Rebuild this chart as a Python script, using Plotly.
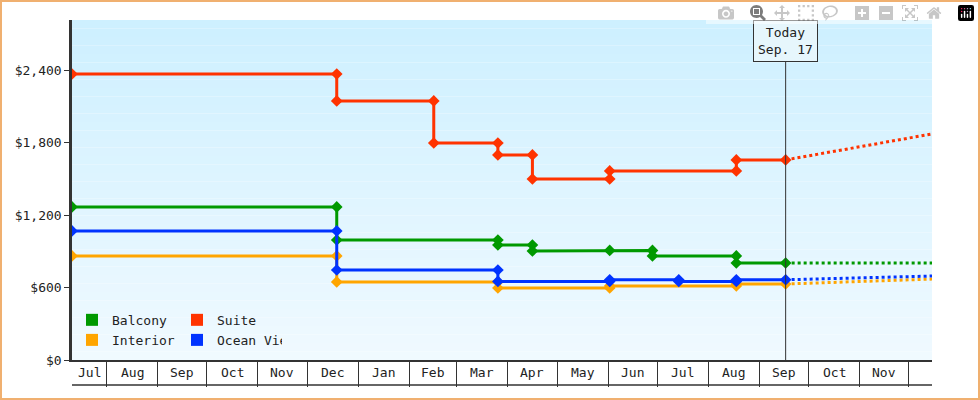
import pandas as pd
import plotly.graph_objects as go

# price history (step changes), dates repeated where the price changed
suite_x = ["2023-07-11", "2023-12-19", "2023-12-19", "2024-02-16", "2024-02-16", "2024-03-26", "2024-03-26",
           "2024-04-16", "2024-04-16", "2024-06-02", "2024-06-02", "2024-08-18", "2024-08-18", "2024-09-17"]
suite_y = [2367, 2367, 2144, 2144, 1796, 1796, 1697, 1697, 1498, 1498, 1565, 1565, 1656, 1656]

balcony_x = ["2023-07-11", "2023-12-19", "2023-12-19", "2024-03-26", "2024-03-26", "2024-04-16", "2024-04-16",
             "2024-06-02", "2024-06-28", "2024-06-28", "2024-08-18", "2024-08-18", "2024-09-17"]
balcony_y = [1267, 1267, 993, 993, 952, 952, 902, 907, 907, 861, 861, 803, 803]

ocean_x = ["2023-07-11", "2023-12-19", "2023-12-19", "2024-03-26", "2024-03-26", "2024-06-02", "2024-06-02",
           "2024-07-14", "2024-07-14", "2024-08-18", "2024-08-18", "2024-09-17"]
ocean_y = [1068, 1068, 745, 745, 650, 650, 664, 664, 650, 650, 664, 664]

interior_x = ["2023-07-11", "2023-12-19", "2023-12-19", "2024-03-26", "2024-03-26", "2024-06-02", "2024-06-02",
              "2024-08-18", "2024-08-18", "2024-09-17"]
interior_y = [861, 861, 646, 646, 596, 596, 613, 613, 629, 629]

# forecasts from today to end of range
forecast_x = ["2024-09-17", "2024-12-15"]
suite_fc = [1656, 1871]
balcony_fc = [803, 803]
ocean_fc = [664, 695]
interior_fc = [629, 670]

months = ["Jul", "Aug", "Sep", "Oct", "Nov", "Dec", "Jan", "Feb", "Mar", "Apr", "May", "Jun", "Jul", "Aug", "Sep", "Oct", "Nov"]
month_starts = ["2023-07-01", "2023-08-01", "2023-09-01", "2023-10-01", "2023-11-01", "2023-12-01", "2024-01-01",
                "2024-02-01", "2024-03-01", "2024-04-01", "2024-05-01", "2024-06-01", "2024-07-01", "2024-08-01",
                "2024-09-01", "2024-10-01", "2024-11-01", "2024-12-01"]
x_range = ["2023-07-11", "2024-12-15"]
y_ticks = [0, 600, 1200, 1800, 2400]
today = "2024-09-17"

FONT = "DejaVu Sans Mono"
series = [
    ("Balcony", "#009900", balcony_x, balcony_y, balcony_fc, "legend"),
    ("Suite", "#ff3300", suite_x, suite_y, suite_fc, "legend"),
    ("Interior", "#ffa500", interior_x, interior_y, interior_fc, "legend2"),
    ("Ocean View", "#0033ff", ocean_x, ocean_y, ocean_fc, "legend2"),
]

fig = go.Figure()

# background gradient
n = 40
for i in range(n):
    t = i / (n - 1)
    r = int(0xce + (0xf0 - 0xce) * t)
    g = int(0xf0 + (0xfa - 0xf0) * t)
    fig.add_shape(type="rect", xref="paper", yref="paper", x0=0, x1=1,
                  y0=1 - (i + 1) / n, y1=1 - i / n, fillcolor=f"rgb({r},{g},255)",
                  line_width=0, layer="below")

for name, color, xs, ys, fc, lg in series:
    fig.add_trace(go.Scatter(x=forecast_x, y=fc, mode="lines", line=dict(color=color, width=3, dash="dot"),
                             showlegend=False, hoverinfo="skip"))
    fig.add_trace(go.Scatter(x=xs, y=ys, mode="lines+markers", line=dict(color=color, width=3),
                             marker=dict(symbol="diamond", size=9, color=color), showlegend=False, name=name))
    fig.add_trace(go.Scatter(x=[None], y=[None], mode="markers", name=name, legend=lg,
                             marker=dict(symbol="square", size=12, color=color)))

# today line and label
fig.add_shape(type="line", x0=today, x1=today, yref="paper", y0=0, y1=0.88, line=dict(color="#333", width=1))
fig.add_annotation(x=today, yref="paper", y=1, yanchor="top", text="Today<br>Sep. 17", showarrow=False,
                   bgcolor="#e6f6fc", bordercolor="#333", borderwidth=1, borderpad=4,
                   font=dict(family=FONT, size=13, color="#222"))

# month labels under the axis, centered in the visible part of each month
for i, m in enumerate(months):
    a = pd.Timestamp(max(month_starts[i], x_range[0]))
    b = pd.Timestamp(min(month_starts[i + 1], x_range[1]))
    fig.add_annotation(x=a + (b - a) / 2, yref="paper", y=-0.0368, yanchor="middle", text=m, showarrow=False,
                       font=dict(family=FONT, size=13, color="#222"))
fig.add_shape(type="line", xref="paper", yref="paper", x0=0, x1=1, y0=-25 / 340, y1=-25 / 340,
              line=dict(color="#333", width=1.5))

# outer border
fig.add_shape(type="rect", xref="paper", yref="paper", x0=-71 / 860, x1=907 / 860,
              y0=-39 / 340, y1=359 / 340, line=dict(color="#f0b070", width=2))

legend_style = dict(orientation="h", x=0.0, xanchor="left", yanchor="middle", bgcolor="rgba(0,0,0,0)",
                    entrywidth=60, font=dict(family=FONT, size=13), itemwidth=30)

fig.update_layout(
    width=980, height=400, margin=dict(l=72, r=48, t=20, b=40),
    paper_bgcolor="white", plot_bgcolor="rgba(0,0,0,0)",
    font=dict(family=FONT, size=13, color="#222"),
    xaxis=dict(range=x_range, tickvals=month_starts, showticklabels=False, ticks="outside", ticklen=25,
               tickcolor="#333", showgrid=False, showline=True, linecolor="#333", linewidth=1.5, zeroline=False),
    yaxis=dict(range=[0, 2814], tickvals=y_ticks, ticktext=[f"${v:,}" for v in y_ticks], ticks="outside",
               ticklen=5, tickcolor="#333", showgrid=False, showline=True, linecolor="#333", linewidth=2.5,
               zeroline=False),
    legend=dict(legend_style, y=0.118),
    legend2=dict(legend_style, y=0.059),
)

fig.write_html("out.html", post_script="document.body.style.margin='0';")
